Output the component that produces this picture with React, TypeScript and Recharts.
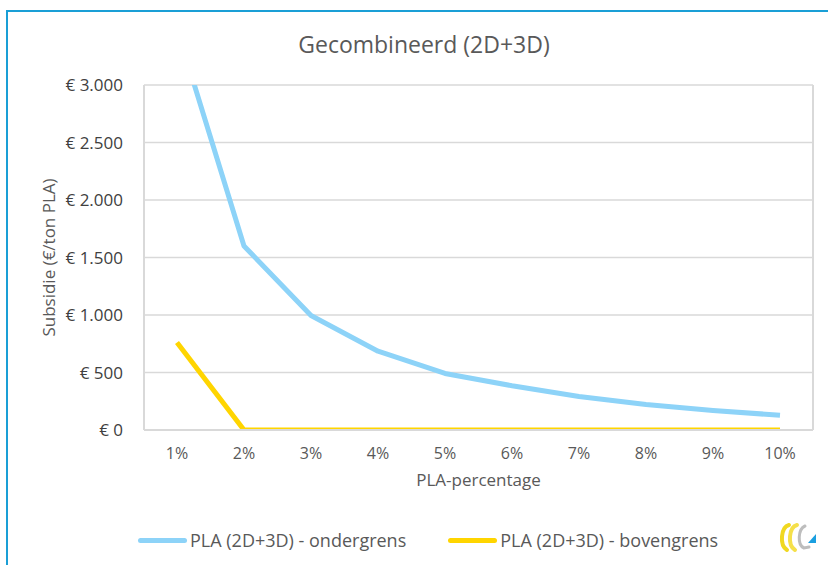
import React from 'react';
import { LineChart, Line, XAxis, YAxis, CartesianGrid } from 'recharts';

const categories = ['1%', '2%', '3%', '4%', '5%', '6%', '7%', '8%', '9%', '10%'];
const ondergrens = [3490, 1600, 995, 685, 492, 385, 292, 222, 170, 128];
const bovengrens = [760, 0, 0, 0, 0, 0, 0, 0, 0, 0];
const yTicks = [0, 500, 1000, 1500, 2000, 2500, 3000];

const title = 'Gecombineerd (2D+3D)';
const xTitle = 'PLA-percentage';
const yTitle = 'Subsidie (€/ton PLA)';
const seriesNames = ['PLA (2D+3D) - ondergrens', 'PLA (2D+3D) - bovengrens'];
const seriesColors = ['#8dd3f8', '#ffd500'];

const data = categories.map((c, i) => ({ x: c, onder: ondergrens[i], boven: bovengrens[i] }));

const FONT = '"Open Sans", "Noto Sans", sans-serif';

const fmt = (v: number) => '€ ' + String(v).replace(/\B(?=(\d{3})+(?!\d))/g, '.');

const YLabel = (props: any) => {
  const vb = props.viewBox || { x: 0, y: 0, width: 0, height: 0 };
  const cx = vb.x + 48;
  const cy = vb.y + vb.height / 2;
  return (
    <text x={cx} y={cy} transform={`rotate(-90 ${cx} ${cy})`} textAnchor="middle" dominantBaseline="central"
      fill="#595959" fontSize={17} fontFamily={FONT}>{yTitle}</text>
  );
};

const Logo = () => (
  <svg width={42} height={36} viewBox="0 0 42 36" style={{ position: 'absolute', left: 777, top: 519 }}>
    <path d="M12 6 C4 8 2 26 10 31" stroke="#f0d820" strokeWidth={4} fill="none" strokeLinecap="round" />
    <path d="M20 6 C12 8 10 26 18 31" stroke="#f5e04a" strokeWidth={4} fill="none" strokeLinecap="round" />
    <path d="M28 7 C21 10 20 26 27 29 L32 28" stroke="#bdbdbd" strokeWidth={3} fill="none" strokeLinecap="round" />
    <path d="M31 24 L39 24 L39 15 Z" fill="#1a9fe0" />
  </svg>
);

export default function App() {
  return (
    <div style={{ position: 'absolute', left: 0, top: 0, width: 828, height: 565, overflow: 'hidden', background: '#fff', fontFamily: FONT }}>
      <div style={{ position: 'absolute', left: 6, top: 10, width: 900, height: 700, borderLeft: '2px solid #1a9fd6', borderTop: '2px solid #1a9fd6' }} />
      <div style={{ position: 'absolute', left: 0, top: 28, width: 848, textAlign: 'center', fontSize: 23, color: '#595959', lineHeight: '32px' }}>{title}</div>
      <div style={{ position: 'absolute', left: 0, top: 0 }}>
        <LineChart width={828} height={565} data={data} margin={{ top: 85, right: 0, bottom: 75, left: 0 }}>
          <CartesianGrid vertical={false} stroke="#d9d9d9" strokeWidth={1.5} yAxisId="left" />
          <XAxis dataKey="x" tickLine={false} axisLine={{ stroke: '#d9d9d9', strokeWidth: 2 }}
            padding={{ left: 33, right: 33 }}
            tick={{ fill: '#595959', fontSize: 16, fontFamily: FONT }} tickMargin={12} height={60}
            label={{ value: xTitle, position: 'insideBottom', offset: 4, fill: '#595959', fontSize: 17, fontFamily: FONT }} />
          <YAxis yAxisId="left" width={144} domain={[0, 3000]} ticks={yTicks} allowDataOverflow
            tickFormatter={fmt} tickLine={false} axisLine={{ stroke: '#d9d9d9', strokeWidth: 2 }}
            tick={{ fill: '#404040', fontSize: 17, fontFamily: FONT }} tickMargin={15}
            label={<YLabel />} />
          <YAxis yAxisId="right" orientation="right" width={15} domain={[0, 3000]} ticks={yTicks}
            tick={false} tickLine={false} axisLine={{ stroke: '#d9d9d9', strokeWidth: 2 }} />
          <Line yAxisId="left" type="linear" dataKey="onder" name={seriesNames[0]} stroke={seriesColors[0]}
            strokeWidth={5} dot={false} isAnimationActive={false} strokeLinejoin="round" />
          <Line yAxisId="left" type="linear" dataKey="boven" name={seriesNames[1]} stroke={seriesColors[1]}
            strokeWidth={5} dot={false} isAnimationActive={false} strokeLinejoin="round" />
        </LineChart>
      </div>
      <div style={{ position: 'absolute', left: 138, top: 528, height: 24, display: 'flex', alignItems: 'center', fontSize: 18, color: '#595959', whiteSpace: 'nowrap' }}>
        <span style={{ display: 'inline-block', width: 49, height: 5, borderRadius: 3, background: seriesColors[0], marginRight: 3 }} />
        <span>{seriesNames[0]}</span>
        <span style={{ display: 'inline-block', width: 49, height: 5, borderRadius: 3, background: seriesColors[1], marginLeft: 42, marginRight: 3 }} />
        <span>{seriesNames[1]}</span>
      </div>
      <Logo />
    </div>
  );
}
